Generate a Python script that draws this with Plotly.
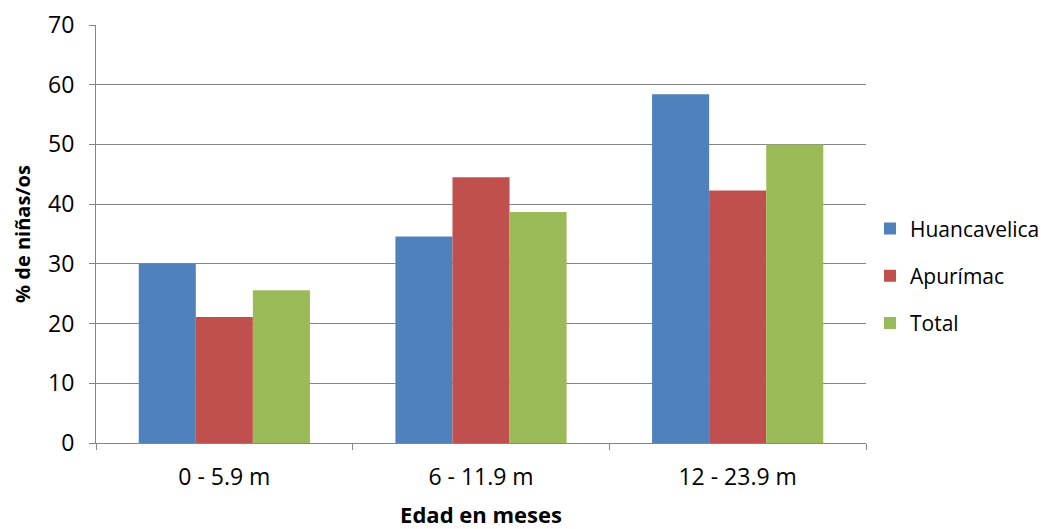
import plotly.graph_objects as go

categories = ["0 - 5.9 m", "6 - 11.9 m", "12 - 23.9 m"]
huancavelica = [30.0, 34.6, 58.4]
apurimac = [21.1, 44.5, 42.3]
total = [25.6, 38.7, 50.0]
y_ticks = [0, 10, 20, 30, 40, 50, 60, 70]

series = [
    ("Huancavelica", huancavelica, "#4F81BD"),
    ("Apurímac", apurimac, "#C0504D"),
    ("Total", total, "#9BBB59"),
]

FONT = "Open Sans"
GRID = "#868686"

fig = go.Figure()
for name, values, color in series:
    fig.add_trace(go.Bar(
        x=categories, y=values, name=name, legendgroup=name,
        marker=dict(color=color, line=dict(width=0)),
    ))

fig.update_layout(
    width=1041, height=529,
    margin=dict(l=96, r=175, t=25, b=86, autoexpand=False),
    paper_bgcolor="white", plot_bgcolor="white",
    barmode="group", bargap=0.333, bargroupgap=0,
    font=dict(family=FONT, size=23, color="#000000"),
    legend=dict(
        xref="container", x=870 / 1041, xanchor="left",
        y=0.40, yanchor="middle",
        font=dict(family=FONT, size=21), tracegroupgap=17,
        traceorder="grouped",
    ),
    xaxis=dict(
        automargin=False,
        showline=True, linecolor=GRID, linewidth=1,
        ticks="outside", tickson="boundaries", ticklen=6, tickcolor=GRID,
        ticklabelstandoff=13,
        title=dict(text="<b>Edad en meses</b>", font=dict(size=22), standoff=22),
        showgrid=False,
    ),
    yaxis=dict(
        automargin=False,
        range=[0, 70], tickvals=y_ticks,
        showline=True, linecolor=GRID, linewidth=1,
        ticks="outside", ticklen=6, tickcolor=GRID,
        ticklabelstandoff=10,
        showgrid=True, gridcolor=GRID, gridwidth=1,
        zeroline=False,
        title=dict(text="<b>% de niñas/os</b>", font=dict(size=20), standoff=12),
    ),
)

fig.write_html("out.html")
